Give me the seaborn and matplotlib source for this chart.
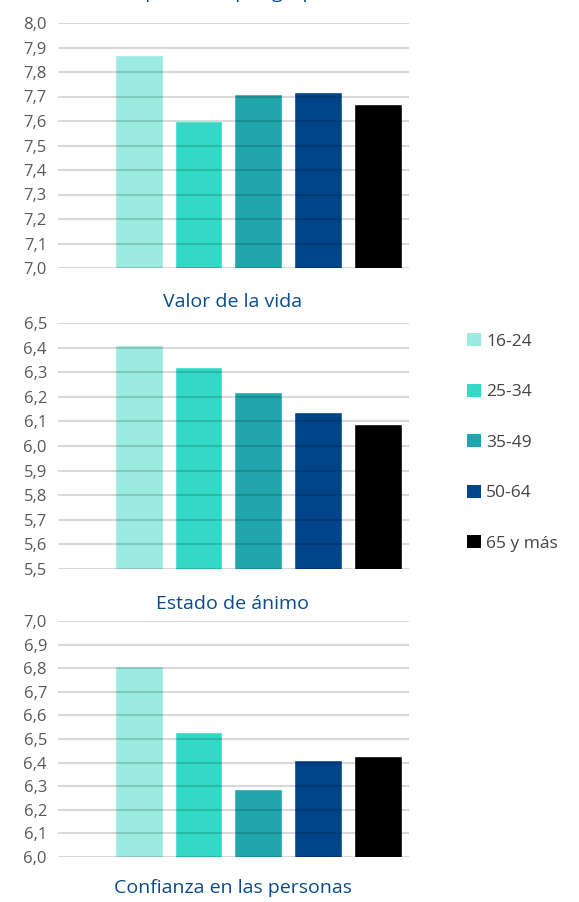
import numpy as np
import pandas as pd
import matplotlib
matplotlib.use("Agg")
import matplotlib.pyplot as plt
from matplotlib.patches import Patch
from matplotlib.ticker import FuncFormatter
import seaborn as sns

groups = ["16-24", "25-34", "35-49", "50-64", "65 y más"]
colors = ["#9BEBE1", "#33D9C6", "#22A6AE", "#00448A", "#000000"]

panel1 = [7.87, 7.60, 7.71, 7.72, 7.67]
valor_vida = [6.41, 6.32, 6.22, 6.14, 6.09]
estado_animo = [6.81, 6.53, 6.29, 6.41, 6.43]

titles = ["Felicidad percibida por grupo de edad", "Valor de la vida",
          "Estado de ánimo", "Confianza en las personas"]
ylims = [(7.0, 8.0), (5.5, 6.5), (6.0, 7.0)]

sns.set_style("white")
plt.rcParams["font.family"] = ["Open Sans", "DejaVu Sans"]

W, H = 579, 902
fig = plt.figure(figsize=(W / 100, H / 100), dpi=100)

# axes boxes in pixels: (top, bottom)
boxes = [(23, 268), (323, 569), (621, 857)]
left, right = 58, 409

dec = FuncFormatter(lambda v, p: f"{v:.1f}".replace(".", ","))

for vals, (top, bot), lim in zip([panel1, valor_vida, estado_animo], boxes, ylims):
    ax = fig.add_axes([left / W, 1 - bot / H, (right - left) / W, (bot - top) / H])
    df = pd.DataFrame({"grupo": groups, "valor": vals})
    sns.barplot(data=df, x="grupo", y="valor", hue="grupo", palette=colors,
                width=0.8, saturation=1, legend=False, ax=ax)
    ax.set_ylim(*lim)
    ax.set_xlim(-1.35, 4.52)
    ax.set_yticks(np.round(np.arange(lim[0], lim[1] + 0.001, 0.1), 1))
    ax.yaxis.set_major_formatter(dec)
    ax.set_xticks([])
    ax.set_xlabel("")
    ax.set_ylabel("")
    ax.set_axisbelow(False)
    ax.yaxis.grid(True, color="black", alpha=0.15, linewidth=1.5)
    for s in ax.spines.values():
        s.set_visible(False)
    ax.tick_params(axis="y", length=0, pad=8, labelsize=12, labelcolor="#595959")
    ax.patch.set_alpha(0)

# panel titles (the first one is cut by the top edge, as in the source)
title_y = [-7, 302, 604, 888]
for t, y in zip(titles, title_y):
    fig.text(233 / W, 1 - y / H, t, ha="center", va="center",
             fontsize=14, fontweight="medium", color="#0A4A8C")

handles = [Patch(facecolor=c, edgecolor="none") for c in colors]
fig.legend(handles, groups, loc="upper left", bbox_to_anchor=(467 / W, 1 - 333 / H),
           frameon=False, fontsize=12.5, handlelength=0.8, handleheight=0.8,
           handletextpad=0.3, labelspacing=1.95, labelcolor="#444444",
           borderaxespad=0, borderpad=0)

fig.savefig("out.png", dpi=100)
